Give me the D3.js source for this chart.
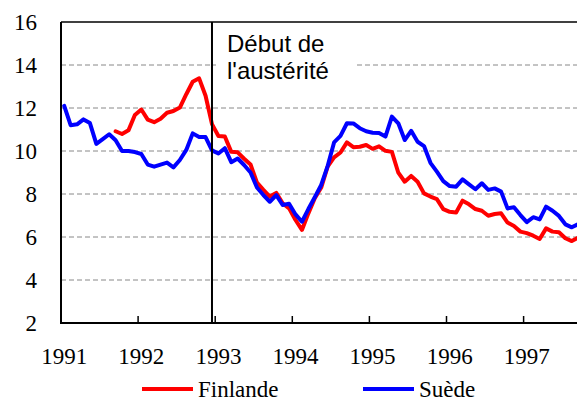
<!DOCTYPE html>
<html><head><meta charset="utf-8">
<script src="https://cdn.jsdelivr.net/npm/d3@7"></script>
<style>html,body{margin:0;padding:0;background:#fff;}svg{display:block;}</style>
</head><body>
<svg id="chart" width="577" height="401"></svg>
<script>
// Monthly data, Jan 1991 (index 0) .. Sep 1997 (index 80)
const yearLabels = ["1991","1992","1993","1994","1995","1996","1997"];
const yTicks = [2,4,6,8,10,12,14,16];
const seriesNames = ["Finlande","Suède"];
const seriesColors = ["#ff0000","#0000ff"];
const suede = [12.1,11.2,11.24,11.47,11.3,10.33,10.55,10.78,10.5,10.0,10.0,9.95,
  9.86,9.37,9.27,9.37,9.46,9.24,9.58,10.05,10.82,10.65,10.65,10.03,
  9.88,10.13,9.48,9.65,9.35,9.0,8.3,7.95,7.64,7.95,7.49,7.55,
  7.05,6.71,7.3,7.85,8.42,9.3,10.4,10.7,11.29,11.28,11.06,10.92,
  10.85,10.84,10.67,11.6,11.29,10.51,10.94,10.43,10.23,9.45,9.04,8.6,
  8.37,8.34,8.68,8.45,8.22,8.5,8.19,8.26,8.11,7.33,7.38,7.02,
  6.69,6.92,6.82,7.41,7.22,6.98,6.59,6.45,6.6];
const finlande = [null,null,null,null,null,null,null,null,10.92,10.79,10.96,11.67,
  11.93,11.46,11.34,11.5,11.78,11.86,12.02,12.64,13.22,13.38,12.57,11.25,
  10.7,10.67,9.96,9.94,9.64,9.37,8.53,8.19,7.88,8.05,7.57,7.33,
  6.79,6.33,7.1,7.8,8.3,9.27,9.7,9.93,10.4,10.18,10.2,10.28,
  10.1,10.22,10.01,9.96,8.99,8.57,8.84,8.57,8.03,7.88,7.76,7.3,
  7.17,7.14,7.69,7.52,7.3,7.22,6.99,7.07,7.1,6.67,6.51,6.25,
  6.18,6.06,5.91,6.4,6.25,6.22,5.94,5.81,5.97];
const austerityIndex = 23; // Dec 1992
const annotationLines = ["Début de","l'austérité"];

const SERIF = "'Liberation Serif', 'DejaVu Serif', 'Noto Serif', 'Times New Roman', serif";
const SANS = "'Liberation Sans', Arial, sans-serif";

const svg = d3.select("#chart");
const pLeft = 61, pTop = 22, pBottom = 323, monthW = 77.1/12;
const x = d3.scaleLinear().domain([0, 84]).range([pLeft, pLeft + 84*monthW]);
const y = d3.scaleLinear().domain([2, 16]).range([pBottom, pTop]);
const W = 577;

// gridlines
svg.append("g").selectAll("line").data(yTicks.filter(v => v > 2 && v < 16)).join("line")
  .attr("x1", pLeft).attr("x2", W).attr("y1", d => y(d)).attr("y2", d => y(d))
  .attr("stroke", "#888").attr("stroke-width", 1).attr("stroke-dasharray", "5,3");

// annotation background
svg.append("rect").attr("x", 216).attr("y", 27).attr("width", 141).attr("height", 57).attr("fill", "#fff");

// y labels
svg.append("g").selectAll("text").data(yTicks).join("text")
  .style("font-family", SERIF).style("font-size", "23px")
  .attr("x", 37).attr("y", d => y(d)).attr("dy", "0.35em").attr("text-anchor", "end")
  .attr("fill", "#000").text(d => d);

// x ticks (inward)
const tickIdx = d3.range(0, 85, 12);
svg.append("g").selectAll("line").data(tickIdx).join("line")
  .attr("x1", d => x(d)).attr("x2", d => x(d)).attr("y1", pBottom).attr("y2", pBottom - 7)
  .attr("stroke", "#000").attr("stroke-width", 1.5);

// x labels
svg.append("g").selectAll("text").data(yearLabels).join("text")
  .style("font-family", SERIF).style("font-size", "23px")
  .attr("x", (d, i) => x(i*12 + 0.5)).attr("y", 364).attr("text-anchor", "middle")
  .attr("fill", "#000").text(d => d);

// lines
const line = d3.line().defined(d => d != null).x((d, i) => x(i + 0.5)).y(d => y(d));
svg.append("clipPath").attr("id", "clip").append("rect")
  .attr("x", pLeft).attr("y", 0).attr("width", W - pLeft).attr("height", pBottom);
[finlande, suede].forEach((s, k) => {
  svg.append("path").datum(s).attr("d", line).attr("fill", "none")
    .attr("stroke", seriesColors[k]).attr("stroke-width", 4)
    .attr("stroke-linejoin", "round").attr("stroke-linecap", "round")
    .attr("clip-path", "url(#clip)");
});

// austerity line
svg.append("line").attr("x1", x(austerityIndex + 0.5)).attr("x2", x(austerityIndex + 0.5))
  .attr("y1", pTop).attr("y2", pBottom).attr("stroke", "#000").attr("stroke-width", 2);

// annotation text
svg.append("text").style("font-family", SANS).style("font-size", "24px")
  .attr("fill", "#000").selectAll("tspan").data(annotationLines).join("tspan")
  .attr("x", 227).attr("y", (d, i) => 52 + i*26.5).text(d => d);

// frame
svg.append("line").attr("x1", pLeft).attr("x2", W).attr("y1", pTop).attr("y2", pTop).attr("stroke", "#000").attr("stroke-width", 1.5);
svg.append("line").attr("x1", pLeft).attr("x2", pLeft).attr("y1", pTop).attr("y2", pBottom).attr("stroke", "#000").attr("stroke-width", 2);
svg.append("line").attr("x1", pLeft - 1).attr("x2", W).attr("y1", pBottom).attr("y2", pBottom).attr("stroke", "#000").attr("stroke-width", 2);

// legend
const legX = [142, 363];
const leg = svg.append("g").selectAll("g").data(seriesNames).join("g");
leg.append("line").attr("x1", (d, i) => legX[i]).attr("x2", (d, i) => legX[i] + 51)
  .attr("y1", 389).attr("y2", 389).attr("stroke", (d, i) => seriesColors[i]).attr("stroke-width", 4);
leg.append("text").style("font-family", SERIF).style("font-size", "23px")
  .attr("x", (d, i) => legX[i] + 56).attr("y", 397)
  .attr("fill", "#000").text(d => d);
</script>
</body></html>
